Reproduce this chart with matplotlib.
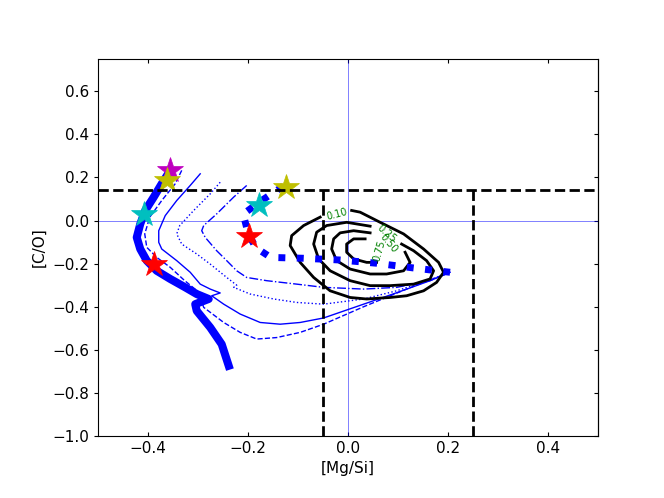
import numpy as np
import matplotlib
matplotlib.use('Agg')
import matplotlib.pyplot as plt

plt.rcParams['font.size'] = 11

# model tracks ([Mg/Si], [C/O])
thick_x = [-0.356, -0.373, -0.389, -0.406, -0.416, -0.423, -0.416, -0.403, -0.383, -0.356,
           -0.326, -0.303, -0.279, -0.306, -0.303, -0.276, -0.253, -0.239]
thick_y = [0.233, 0.171, 0.109, 0.047, -0.016, -0.078, -0.132, -0.186, -0.233, -0.271,
           -0.31, -0.341, -0.364, -0.388, -0.419, -0.496, -0.574, -0.674]

solid_x = [-0.296, -0.316, -0.343, -0.366, -0.379, -0.379, -0.373, -0.343, -0.316, -0.296,
           -0.276, -0.256, -0.273, -0.249, -0.216, -0.176, -0.136, -0.096, -0.049, 0.031,
           0.097, 0.164, 0.204]
solid_y = [0.217, 0.163, 0.093, 0.023, -0.047, -0.101, -0.132, -0.186, -0.24, -0.295,
           -0.318, -0.336, -0.349, -0.388, -0.434, -0.473, -0.481, -0.473, -0.452, -0.388,
           -0.335, -0.279, -0.24]

dash_x = [-0.333, -0.346, -0.373, -0.397, -0.407, -0.403, -0.383, -0.356, -0.327, -0.3,
          -0.289, -0.249, -0.216, -0.183, -0.143, -0.096, -0.049, 0.031, 0.12, 0.204]
dash_y = [0.233, 0.171, 0.093, 0.016, -0.062, -0.124, -0.171, -0.217, -0.279, -0.33,
          -0.403, -0.473, -0.519, -0.55, -0.543, -0.519, -0.481, -0.4, -0.315, -0.24]

dot_x = [-0.256, -0.276, -0.309, -0.337, -0.343, -0.333, -0.303, -0.276, -0.243, -0.223,
         -0.229, -0.196, -0.149, -0.103, -0.049, 0.031, 0.097, 0.164, 0.204]
dot_y = [0.178, 0.124, 0.047, -0.023, -0.062, -0.109, -0.155, -0.202, -0.264, -0.3,
         -0.31, -0.341, -0.364, -0.38, -0.388, -0.364, -0.326, -0.275, -0.24]

dashdot_x = [-0.203, -0.229, -0.263, -0.289, -0.293, -0.286, -0.263, -0.243, -0.223, -0.203,
             -0.163, -0.103, -0.049, 0.031, 0.097, 0.164, 0.204]
dashdot_y = [0.163, 0.109, 0.031, -0.023, -0.047, -0.078, -0.14, -0.186, -0.233, -0.264,
             -0.279, -0.295, -0.31, -0.318, -0.31, -0.279, -0.24]

sq_x = [-0.13, -0.175, -0.21, -0.2, -0.185, -0.155, -0.089, -0.016, 0.057, 0.131, 0.204]
sq_y = [0.16, 0.09, 0.03, -0.06, -0.125, -0.171, -0.175, -0.183, -0.198, -0.22, -0.24]

# stars
star_x = [-0.356, -0.363, -0.409, -0.388, -0.125, -0.179, -0.198]
star_y = [0.233, 0.189, 0.031, -0.202, 0.155, 0.074, -0.07]
star_c = ['m', 'y', 'c', 'r', 'y', 'c', 'r']

# observed contours
c10_x = [0.007, 0.024, 0.064, 0.111, 0.151, 0.181, 0.191, 0.177, 0.151, 0.117, 0.084, 0.037,
         0.004, -0.036, -0.069, -0.096, -0.116, -0.113, -0.089, -0.056]
c10_y = [0.047, 0.039, -0.008, -0.062, -0.132, -0.194, -0.24, -0.287, -0.326, -0.349, -0.357,
         -0.364, -0.357, -0.326, -0.264, -0.194, -0.116, -0.07, -0.023, 0.016]
c25_x = [0.044, -0.003, -0.043, -0.063, -0.069, -0.059, -0.036, 0.004, 0.044, 0.084, 0.131,
         0.164, 0.171, 0.157, 0.131, 0.107]
c25_y = [-0.026, -0.008, -0.023, -0.054, -0.109, -0.178, -0.233, -0.279, -0.302, -0.302, -0.295,
         -0.271, -0.233, -0.186, -0.14, -0.109]
c50_x = [0.044, 0.011, -0.016, -0.029, -0.033, -0.023, 0.004, 0.044, 0.077, 0.111, 0.124, 0.114]
c50_y = [-0.057, -0.047, -0.057, -0.085, -0.132, -0.186, -0.225, -0.248, -0.248, -0.233, -0.194,
         -0.147]
c75_x = [0.034, 0.011, -0.003, -0.003, 0.011, 0.037, 0.057]
c75_y = [-0.085, -0.085, -0.109, -0.147, -0.178, -0.194, -0.194]

lab_text = ['0.10', '0.25', '0.50', '0.75']
lab_x = [-0.023, 0.077, 0.08, 0.062]
lab_y = [0.031, -0.062, -0.105, -0.14]
lab_rot = [15, -40, -50, 74]

fig = plt.figure(figsize=(6.64, 4.98), dpi=100)
ax = fig.add_subplot(111)
fig.subplots_adjust(left=0.148, right=0.9006, top=0.8815, bottom=0.1245)

ax.axhline(0.0, color='b', lw=0.7, alpha=0.5)
ax.axvline(0.0, color='b', lw=0.7, alpha=0.5)

ax.plot(thick_x, thick_y, 'b-', lw=5.8)
ax.plot(solid_x, solid_y, 'b-', lw=1)
ax.plot(dash_x, dash_y, 'b--', lw=1)
ax.plot(dot_x, dot_y, 'b:', lw=1)
ax.plot(dashdot_x, dashdot_y, 'b-.', lw=1)

for cx, cy in [(c10_x, c10_y), (c25_x, c25_y), (c50_x, c50_y), (c75_x, c75_y)]:
    ax.plot(cx, cy, 'k-', lw=2)
for t, lx, ly, r in zip(lab_text, lab_x, lab_y, lab_rot):
    ax.text(lx, ly, t, color='g', fontsize=7, rotation=r, ha='center', va='center')

ax.plot(sq_x, sq_y, 'b:', lw=5)

for sx, sy, sc in zip(star_x, star_y, star_c):
    ax.plot(sx, sy, '*', color=sc, ms=19, mec=sc, mew=0.5)

ax.axhline(0.144, color='k', ls='--', lw=2)
ax.plot([-0.05, -0.05], [-1.0, 0.144], 'k--', lw=2)
ax.plot([0.25, 0.25], [-1.0, 0.144], 'k--', lw=2)

ax.set_xlim(-0.5, 0.5)
ax.set_ylim(-1.0, 0.75)
ax.set_xticks([-0.4, -0.2, 0.0, 0.2, 0.4])
ax.set_yticks(np.arange(-1.0, 0.61, 0.2))
ax.tick_params(axis='x', direction='in', top=True, length=3)
ax.tick_params(axis='y', direction='out', length=3)
sec = ax.secondary_yaxis('right')
sec.tick_params(direction='in', length=3, labelright=False)
sec.set_yticks(np.arange(-1.0, 0.61, 0.2))

ax.set_xlabel('[Mg/Si]')
ax.set_ylabel('[C/O]')

plt.savefig('out.png', dpi=100)
